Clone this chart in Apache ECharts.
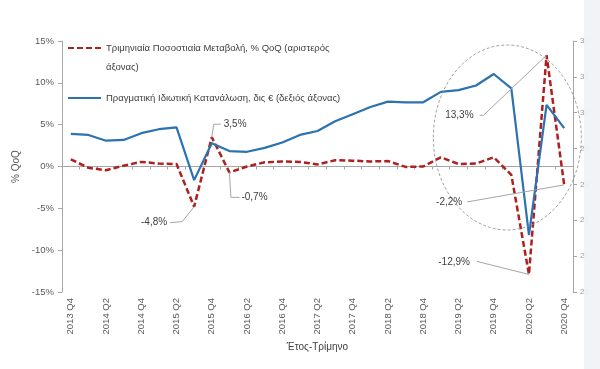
<!DOCTYPE html>
<html><head><meta charset="utf-8">
<script src="https://cdn.jsdelivr.net/npm/echarts@6/dist/echarts.min.js"></script>
<style>html,body{margin:0;padding:0;background:#fff}#c{width:600px;height:369px}</style>
</head><body><div id="c"></div>
<script>
const categories = ['2013 Q4','2014 Q1','2014 Q2','2014 Q3','2014 Q4','2015 Q1','2015 Q2','2015 Q3','2015 Q4',
  '2016 Q1','2016 Q2','2016 Q3','2016 Q4','2017 Q1','2017 Q2','2017 Q3','2017 Q4','2018 Q1','2018 Q2','2018 Q3',
  '2018 Q4','2019 Q1','2019 Q2','2019 Q3','2019 Q4','2020 Q1','2020 Q2','2020 Q3','2020 Q4'];
// Quarterly % change (left axis)
const qoqChange = [0.85,-0.15,-0.45,0.1,0.55,0.35,0.3,-4.8,3.5,-0.7,0.0,0.5,0.6,0.55,0.25,0.75,0.7,0.6,0.65,-0.05,0.0,1.1,0.3,0.35,1.1,-1.0,-12.9,13.3,-2.2];
// Real private consumption, bn € (right axis)
const consumption = [29.41,29.38,29.22,29.24,29.43,29.54,29.59,28.12,29.15,28.93,28.91,29.02,29.17,29.38,29.49,29.76,29.96,30.16,30.31,30.29,30.29,30.58,30.63,30.76,31.08,30.68,26.59,30.22,29.57];
const leftTicks = {min:-15, max:15, interval:5};
const rightTicks = {min:25, max:32, interval:1};
const labelledPoints = [7, 8, 9, 26, 27, 28];
const seriesNames = ['Τριμηνιαία Ποσοστιαία Μεταβολή, % QoQ (αριστερός άξονας)', 'Πραγματική Ιδιωτική Κατανάλωση, δις € (δεξιός άξονας)'];

const FONT = 'Liberation Sans, Arial, sans-serif';
const AX = '#595959';
const chart = echarts.init(document.getElementById('c'), null, {renderer:'canvas'});
const fmt = v => v.toFixed(1).replace('.', ',') + '%';

chart.setOption({
  animation:false,
  backgroundColor:'#ffffff',
  textStyle:{fontFamily:FONT},
  grid:{left:62, right:27, top:41, bottom:77, outerBoundsMode:'none'},
  legend:{
    orient:'vertical', left:67, top:19.5, padding:0, itemGap:12, itemWidth:33, itemHeight:10,
    itemStyle:{opacity:0},
    textStyle:{fontSize:9.5, color:'#404040', fontFamily:FONT, lineHeight:19},
    data:[{name:seriesNames[0]}, {name:seriesNames[1]}],
    formatter: n => n === seriesNames[0] ? ' \nΤριμηνιαία Ποσοστιαία Μεταβολή, % QoQ (αριστερός\nάξονας)' : n
  },
  xAxis:[
    {type:'category', data:categories, position:'bottom',
     axisLine:{show:false, onZero:false}, axisTick:{show:false},
     axisLabel:{rotate:90, interval:1, fontSize:9.5, color:AX, margin:6, fontFamily:FONT},
     name:'Έτος-Τρίμηνο', nameLocation:'middle', nameGap:49,
     nameTextStyle:{fontSize:10, color:'#404040', fontFamily:FONT}},
    {type:'category', data:categories, position:'bottom',
     axisLine:{show:true, onZero:true, lineStyle:{color:'#a6a6a6', width:1}},
     axisTick:{show:true, interval:0, length:3, lineStyle:{color:'#a6a6a6'}},
     axisLabel:{show:false}, splitLine:{show:false}}
  ],
  yAxis:[
    {type:'value', min:leftTicks.min, max:leftTicks.max, interval:leftTicks.interval, position:'left',
     axisLine:{show:true, lineStyle:{color:'#a6a6a6'}}, axisTick:{show:true, length:4, lineStyle:{color:'#a6a6a6'}},
     splitLine:{show:false},
     axisLabel:{formatter:'{value}%', fontSize:9.5, color:AX, margin:8, fontFamily:FONT},
     name:'% QoQ', nameLocation:'middle', nameGap:34, nameRotate:90,
     nameTextStyle:{fontSize:10, color:AX, fontFamily:FONT}},
    {type:'value', min:rightTicks.min, max:rightTicks.max, interval:rightTicks.interval, position:'right',
     axisLine:{show:true, lineStyle:{color:'#a6a6a6'}}, axisTick:{show:true, length:4, lineStyle:{color:'#a6a6a6'}},
     splitLine:{show:false},
     axisLabel:{fontSize:8, color:'#a0a0a0', margin:7, fontFamily:FONT}}
  ],
  series:[
    {name:seriesNames[0], type:'line', xAxisIndex:0, yAxisIndex:0, data:qoqChange,
     symbol:'none', lineStyle:{color:'#ae1f1f', width:2.5, type:[6,3]}, itemStyle:{color:'#ae1f1f'}, z:3},
    {name:seriesNames[1], type:'line', xAxisIndex:0, yAxisIndex:1, data:consumption,
     symbol:'none', lineStyle:{color:'#2c72b0', width:2.2}, itemStyle:{color:'#2c72b0'}, z:4}
  ]
});

// annotation leader lines and data labels, positioned relative to the data points
const leader = {
  7:  {pts:[[-12,15],[-24,16]], text:[-27,16], align:'right'},
  8:  {pts:[[2,-13],[9,-13]], text:[12,-13], align:'left'},
  9:  {pts:[[1.5,25],[10,25]], text:[12,25], align:'left'},
  26: {pts:[[-52,-13]], text:[-59,-12], align:'right'},
  27: {pts:[[-63,60],[-67,60]], text:[-73,60], align:'right'},
  28: {pts:[[-97,17]], text:[-102,17], align:'right'}
};
const g = [];
const c25 = chart.convertToPixel({xAxisIndex:0, yAxisIndex:0}, ['2020 Q1', 0]);
g.push({type:'ellipse', shape:{cx:c25[0]-4, cy:c25[1]-29, rx:74, ry:92.5},
  style:{fill:'none', stroke:'#8c8c8c', lineWidth:0.8, lineDash:[3,2]}, z:5});
labelledPoints.forEach(i => {
  const p = chart.convertToPixel({xAxisIndex:0, yAxisIndex:0}, [categories[i], qoqChange[i]]);
  const L = leader[i];
  const pts = [p].concat(L.pts.map(d => [p[0]+d[0], p[1]+d[1]]));
  g.push({type:'polyline', shape:{points:pts}, style:{fill:'none', stroke:'#a6a6a6', lineWidth:1}, z:6});
  g.push({type:'text', x:p[0]+L.text[0], y:p[1]+L.text[1], z:7,
    style:{text:fmt(qoqChange[i]), fill:'#404040', fontSize:10, fontFamily:FONT, align:L.align, verticalAlign:'middle'}});
});
g.push({type:'rect', shape:{x:584, y:0, width:16, height:369}, style:{fill:'#f1f2f6', opacity:0.93}, z:50});
chart.setOption({graphic:g});
</script></body></html>
